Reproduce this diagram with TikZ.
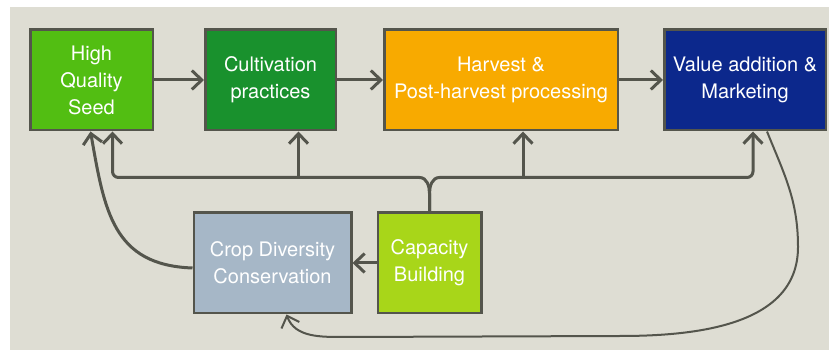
\documentclass[tikz,border=0pt]{standalone}
\usepackage{fontspec}
\setmainfont{TeX Gyre Heros}
\usepackage{xcolor}
\usepackage{tikz}
\usetikzlibrary{shapes.geometric, arrows.meta}
\usetikzlibrary{positioning}
\definecolor{bgbeige}{RGB}{222,221,211}
\definecolor{edgegrey}{RGB}{84,85,76}
\definecolor{seedgreen}{RGB}{82,190,18}
\definecolor{cultgreen}{RGB}{25,145,45}
\definecolor{harvorange}{RGB}{248,170,0}
\definecolor{valueblue}{RGB}{12,40,140}
\definecolor{cropgrey}{RGB}{166,183,199}
\definecolor{caplime}{RGB}{168,214,25}
\tikzstyle{stage} = [rectangle, minimum height=100.5pt, text centered, align=center, draw=edgegrey, line width=2.5pt, text=white, font=\fontsize{20}{27}\selectfont]
\tikzstyle{arrow} = [line width=3pt, draw=edgegrey, -{Straight Barb[length=10pt,width=19pt]}]
\tikzstyle{loop} = [arrow, line width=2pt]

\begin{document}
\begin{tikzpicture}[x=1pt, y=1pt, node distance=46pt]
\useasboundingbox (0,0) rectangle (829,350);
\fill[bgbeige] (10,0) rectangle (829,343);

\node (seed) [stage, fill=seedgreen, minimum width=122.5pt] at (91.5,270) {High\\Quality\\Seed};
\node (cultiv) [stage, fill=cultgreen, minimum width=130.5pt, right=50pt of seed] {Cultivation\\practices};
\node (harvest) [stage, fill=harvorange, minimum width=233.5pt, right=of cultiv] {Harvest \&\\Post-harvest processing};
\node (value) [stage, fill=valueblue, minimum width=161.5pt, right=44pt of harvest] {Value addition \&\\Marketing};
\node (crop) [stage, fill=cropgrey, minimum width=157.5pt, below=80pt of cultiv, xshift=2pt] {Crop Diversity\\Conservation};
\node (cap) [stage, fill=caplime, minimum width=103.5pt, right=24pt of crop] {Capacity\\Building};

\coordinate (fork) at ([yshift=34pt]cap.north);
\coordinate (cultivIn) at ([xshift=28pt]cultiv.south);
\coordinate (harvIn) at ([xshift=22pt]harvest.south);
\coordinate (loopR) at (798,103);
\coordinate (loopB) at (620,14);
\coordinate (loopL) at (345,13);

\draw [arrow] (seed) -- (cultiv);
\draw [arrow] (cultiv) -- (harvest);
\draw [arrow] (harvest) -- (value);
\draw [arrow] (cap) -- (crop);
% feed from capacity building to the top row
\draw [arrow] (cap.north) -- ++(0,18) to[out=90,in=0] ++(-10,16) [rounded corners=6pt] -| ([xshift=21pt]seed.south);
\draw [arrow] (cap.north) -- ++(0,18) to[out=90,in=180] ++(10,16) [rounded corners=6pt] -| ([xshift=8pt]value.south);
\draw [arrow] (cultivIn |- fork) -- (cultivIn);
\draw [arrow] (harvIn |- fork) -- (harvIn);
% return loops
\draw [arrow] ([yshift=-5pt]crop.west) to[out=178,in=-80, looseness=1.2] ([xshift=-1pt]seed.south);
\draw [loop] ([xshift=22pt]value.south) to[out=-68,in=90] (loopR) to[out=-90,in=0] (loopB) -- (loopL) to[out=180,in=-70] ([xshift=14pt]crop.south);
\end{tikzpicture}
\end{document}
